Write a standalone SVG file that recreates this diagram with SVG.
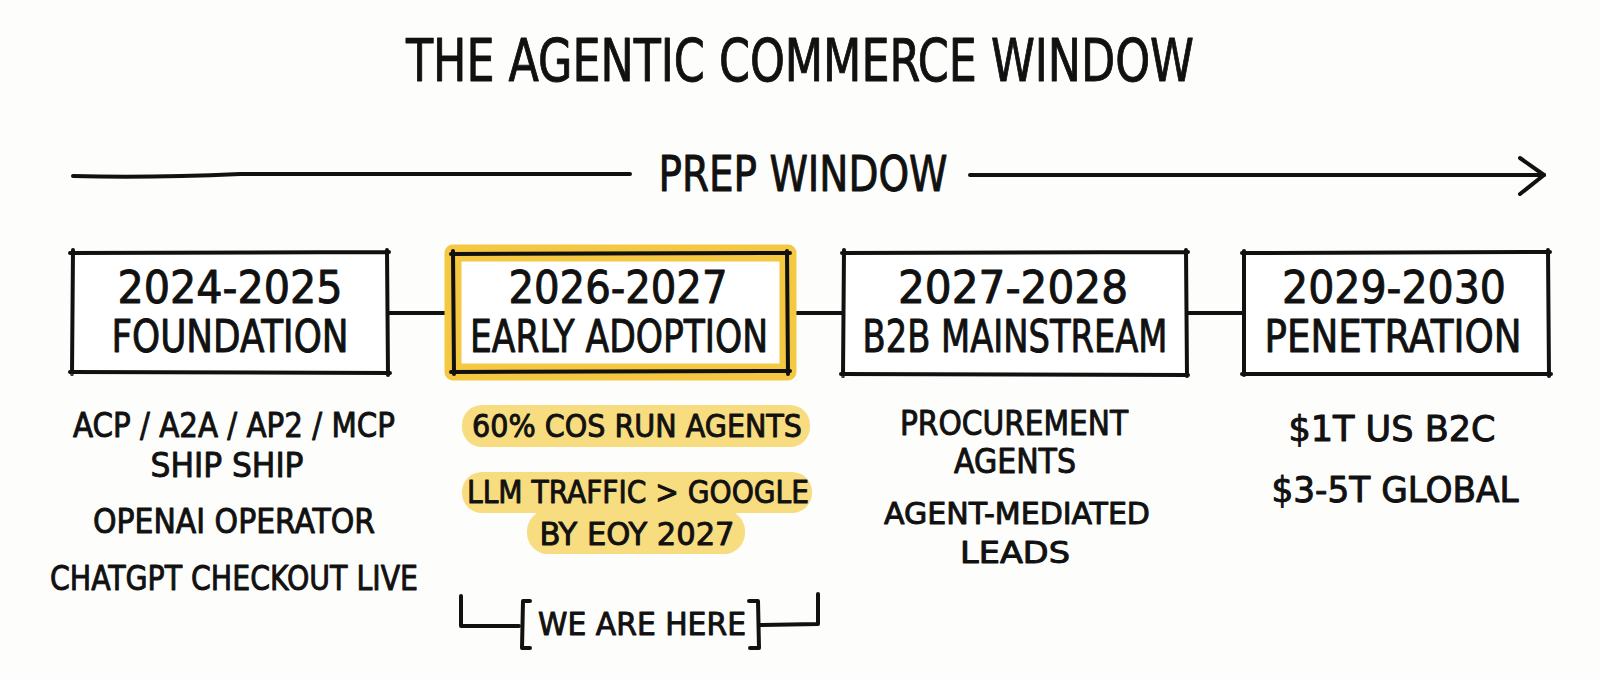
<svg xmlns="http://www.w3.org/2000/svg" width="1600" height="679" viewBox="0 0 1600 679">
<style>
.t{font-family:"Liberation Sans Narrow","DejaVu Sans Condensed","Liberation Sans",sans-serif;fill:#111;stroke:#111;stroke-width:0.9;stroke-linejoin:round;text-anchor:middle}
.ln{stroke:#111;stroke-width:4;fill:none;stroke-linecap:round;stroke-linejoin:round}
.hl{fill:#F8DC80}
</style>
<rect width="1600" height="679" fill="#fdfdfc"/>
<text class="t" x="800" y="81" font-size="58" stroke-width="1.3" textLength="788" lengthAdjust="spacingAndGlyphs">THE AGENTIC COMMERCE WINDOW</text>

<g id="prep-window">
<path class="ln" d="M73 176 Q150 178 240 174 Q420 174 630 174"/>
<text class="t" x="803" y="191" font-size="50" stroke-width="1.2" textLength="289" lengthAdjust="spacingAndGlyphs">PREP WINDOW</text>
<path class="ln" d="M970 175 Q1250 176 1544 175"/>
<path class="ln" d="M1520 158 L1544 175 L1520 194"/>
</g>

<g id="connectors">
<line class="ln" x1="388" y1="313" x2="446" y2="313"/>
<line class="ln" x1="796" y1="313" x2="843" y2="313"/>
<line class="ln" x1="1187" y1="313" x2="1243" y2="313"/>
</g>

<g id="node-2024">
<rect x="72" y="254" width="316" height="118" fill="#fff"/>
<path class="ln" d="M70 253 L389 252 M73 250 L72 374 M387 250 L388 375 M70 372 L390 373"/>
<text class="t" x="230" y="303" font-size="44" stroke-width="1.1" textLength="225" lengthAdjust="spacingAndGlyphs">2024-2025</text>
<text class="t" x="230" y="352" font-size="44" stroke-width="1.1" textLength="237" lengthAdjust="spacingAndGlyphs">FOUNDATION</text>
</g>

<g id="node-2026">
<rect x="453" y="253" width="335" height="119" fill="#fff" stroke="#F5C842" stroke-width="17" stroke-linejoin="round"/>
<path class="ln" d="M451 254 L790 253 M453 251 L454 374 M787 251 L788 374 M451 372 L790 371"/>
<text class="t" x="618" y="303" font-size="44" stroke-width="1.1" textLength="219" lengthAdjust="spacingAndGlyphs">2026-2027</text>
<text class="t" x="619" y="352" font-size="44" stroke-width="1.1" textLength="298" lengthAdjust="spacingAndGlyphs">EARLY ADOPTION</text>
</g>

<g id="node-2027">
<rect x="844" y="254" width="342" height="120" fill="#fff"/>
<path class="ln" d="M842 253 L1188 252 M844 250 L843 376 M1186 250 L1187 376 M841 374 L1188 375"/>
<text class="t" x="1013" y="303" font-size="44" stroke-width="1.1" textLength="230" lengthAdjust="spacingAndGlyphs">2027-2028</text>
<text class="t" x="1015" y="352" font-size="44" stroke-width="1.1" textLength="305" lengthAdjust="spacingAndGlyphs">B2B MAINSTREAM</text>
</g>

<g id="node-2029">
<rect x="1244" y="254" width="305" height="120" fill="#fff"/>
<path class="ln" d="M1242 253 L1550 252 M1244 251 L1244 375 M1548 250 L1549 376 M1242 374 L1551 374"/>
<text class="t" x="1394" y="303" font-size="44" stroke-width="1.1" textLength="224" lengthAdjust="spacingAndGlyphs">2029-2030</text>
<text class="t" x="1393" y="352" font-size="44" stroke-width="1.1" textLength="257" lengthAdjust="spacingAndGlyphs">PENETRATION</text>
</g>

<g id="notes-2024">
<text class="t" x="234" y="437" font-size="34" textLength="322" lengthAdjust="spacingAndGlyphs">ACP / A2A / AP2 / MCP</text>
<text class="t" x="227" y="477" font-size="34" textLength="153" lengthAdjust="spacingAndGlyphs">SHIP SHIP</text>
<text class="t" x="234" y="533" font-size="34" textLength="282" lengthAdjust="spacingAndGlyphs">OPENAI OPERATOR</text>
<text class="t" x="234" y="590" font-size="34" textLength="368" lengthAdjust="spacingAndGlyphs">CHATGPT CHECKOUT LIVE</text>
</g>

<g id="notes-2026">
<rect class="hl" x="462" y="405" width="348" height="42" rx="20"/>
<rect class="hl" x="462" y="472" width="350" height="41" rx="20"/>
<rect class="hl" x="527" y="510" width="218" height="44" rx="21"/>
<text class="t" x="637" y="437" font-size="32" textLength="330" lengthAdjust="spacingAndGlyphs">60% COS RUN AGENTS</text>
<text class="t" x="638" y="503" font-size="32" textLength="342" lengthAdjust="spacingAndGlyphs">LLM TRAFFIC &gt; GOOGLE</text>
<text class="t" x="637" y="545" font-size="32" textLength="195" lengthAdjust="spacingAndGlyphs">BY EOY 2027</text>
</g>

<g id="we-are-here">
<path class="ln" d="M461 596 L461 626 L519 626"/>
<path class="ln" d="M530 601 L523 601 L522 648 L530 648"/>
<text class="t" x="642" y="635" font-size="32" textLength="208" lengthAdjust="spacingAndGlyphs">WE ARE HERE</text>
<path class="ln" d="M749 601 L758 601 L759 648 L750 648"/>
<path class="ln" d="M760 625 L818 624 L818 594"/>
</g>

<g id="notes-2027">
<text class="t" x="1014" y="435" font-size="33" textLength="228" lengthAdjust="spacingAndGlyphs">PROCUREMENT</text>
<text class="t" x="1015" y="473" font-size="33" textLength="122" lengthAdjust="spacingAndGlyphs">AGENTS</text>
<text class="t" x="1017" y="524" font-size="31" textLength="266" lengthAdjust="spacingAndGlyphs">AGENT-MEDIATED</text>
<text class="t" x="1015" y="563" font-size="31" textLength="110" lengthAdjust="spacingAndGlyphs">LEADS</text>
</g>

<g id="notes-2029">
<text class="t" x="1392" y="441" font-size="35" textLength="207" lengthAdjust="spacingAndGlyphs">$1T US B2C</text>
<text class="t" x="1395" y="502" font-size="35" textLength="247" lengthAdjust="spacingAndGlyphs">$3-5T GLOBAL</text>
</g>
</svg>
